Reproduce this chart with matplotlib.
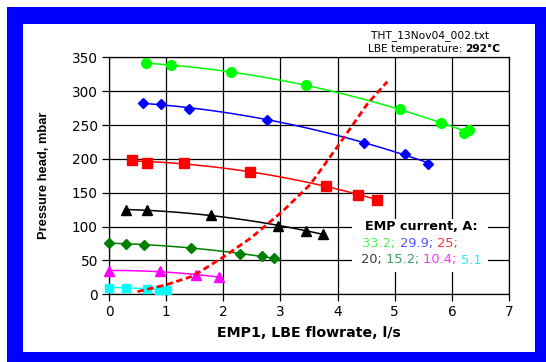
import numpy as np
import matplotlib
matplotlib.use("Agg")
import matplotlib.pyplot as plt
from matplotlib.patches import Rectangle

# ---- data ----
currents = ["33.2", "29.9", "25", "20", "15.2", "10.4", "5.1"]
x_332 = [0.65, 1.08, 2.13, 3.44, 5.09, 5.81, 6.22, 6.30]
y_332 = [341, 339, 328, 309, 273, 253, 238, 242]
x_299 = [0.59, 0.91, 1.40, 2.76, 4.47, 5.18, 5.58]
y_299 = [282, 281, 274, 258, 224, 207, 193]
x_25 = [0.40, 0.67, 1.32, 2.47, 3.79, 4.36, 4.69]
y_25 = [198, 194, 194, 180, 160, 147, 140]
x_20 = [0.30, 0.67, 1.78, 2.95, 3.44, 3.74]
y_20 = [125, 124, 117, 101, 94, 89]
x_152 = [0.0, 0.30, 0.61, 1.43, 2.30, 2.67, 2.88]
y_152 = [76, 74, 73, 69, 60, 56, 53]
x_104 = [0.0, 0.90, 1.52, 1.92]
y_104 = [35, 34, 28, 26]
x_51 = [0.0, 0.30, 0.67, 0.87, 1.01]
y_51 = [10, 10, 8, 6, 6]
x_sys = [0.50, 1.00, 1.47, 2.00, 2.48, 3.03, 3.52, 4.04, 4.52, 4.87]
y_sys = [4, 14, 27, 55, 83, 122, 162, 223, 281, 314]

x_ticks = [0, 1, 2, 3, 4, 5, 6, 7]
y_ticks = [0, 50, 100, 150, 200, 250, 300, 350]

series = [
    (x_332, y_332, "#00FF00", "o", 7.0),
    (x_299, y_299, "#0000FF", "D", 5.5),
    (x_25, y_25, "#FF0000", "s", 7.2),
    (x_20, y_20, "#000000", "^", 7.8),
    (x_152, y_152, "#008000", "D", 5.0),
    (x_104, y_104, "#FF00FF", "^", 7.8),
    (x_51, y_51, "#00FFFF", "s", 5.8),
]
legend_colors = ["#55EE55", "#5555FF", "#FF3333", "#404040", "#3A9A60", "#FF33FF", "#33E8F0"]

W, H = 546, 362
fig = plt.figure(figsize=(W / 100, H / 100), dpi=100)
fig.patch.set_facecolor("white")

def px_rect(x0, y0, x1, y1, color, z):
    fig.patches.append(Rectangle((x0 / W, 1 - y1 / H), (x1 - x0) / W, (y1 - y0) / H,
                                 transform=fig.transFigure, facecolor=color,
                                 edgecolor="none", zorder=z))

px_rect(7, 7, 546, 362, "#0000FF", -10)
px_rect(23, 24, 535, 352, "#FFFFFF", -9)

ax_l, ax_r, ax_t, ax_b = 109, 509, 57.3, 294.3
ax = fig.add_axes([ax_l / W, 1 - ax_b / H, (ax_r - ax_l) / W, (ax_b - ax_t) / H])
ax.set_facecolor("none")
ax.set_xlim(0, 7)
ax.set_ylim(0, 350)
ax.set_xticks(x_ticks)
ax.set_yticks(y_ticks)
ax.grid(True, color="#000000", linewidth=0.9)
ax.set_axisbelow(True)
for s in ax.spines.values():
    s.set_color("#000000")
    s.set_linewidth(0.9)
ax.tick_params(direction="out", length=5, width=0.9, labelsize=9.8, colors="#000000", pad=3)

for xs, ys, c, m, ms in series:
    xs = np.array(xs); ys = np.array(ys)
    coef = np.polyfit(xs, ys, 2)
    xf = np.linspace(xs.min(), xs.max(), 100)
    ax.plot(xf, np.polyval(coef, xf), color=c, lw=1.1, zorder=3, clip_on=False)
    ax.plot(xs, ys, ls="none", marker=m, color=c, ms=ms, mec=c, zorder=4, clip_on=False)

ax.plot(x_sys, y_sys, color="#FF0000", lw=2.0, dashes=(2.3, 1.3), zorder=5)

# white box behind the legend text
ax.add_patch(Rectangle((0.6075, 0.094), 0.34, 0.224, transform=ax.transAxes,
                       facecolor="white", edgecolor="none", zorder=2))

ax.set_xlabel("EMP1, LBE flowrate, l/s", fontsize=10.2, fontweight="bold")
ax.xaxis.set_label_coords(0.5, -0.165)
ax.xaxis.label.set_va("center")
ax.set_ylabel("Pressure head, mbar", fontsize=9.3, fontweight="bold",
              family=["Liberation Sans", "DejaVu Sans"])
ax.yaxis.set_label_coords(-0.162, 0.5)
ax.yaxis.label.set_va("center")

renderer = fig.canvas.get_renderer()

def pieces(parts, x_px, y_px, ha="left", size=8.5):
    # parts: list of (text, color, weight)
    widths = []
    objs = []
    for t, c, w in parts:
        o = fig.text(0, 0, t, color=c, fontweight=w, fontsize=size, va="center", ha="left")
        objs.append(o)
        widths.append(o.get_window_extent(renderer).width)
    total = sum(widths)
    if ha == "center":
        x = x_px - total / 2
    elif ha == "right":
        x = x_px - total
    else:
        x = x_px
    for o, w in zip(objs, widths):
        o.set_position((x / W, 1 - y_px / H))
        x += w

pieces([("EMP current, A:", "#000000", "bold")], 421, 227, ha="center", size=9.2)
pieces([(currents[0] + "; ", legend_colors[0], "normal"),
        (currents[1] + "; ", legend_colors[1], "normal"),
        (currents[2] + ";", legend_colors[2], "normal")], 410, 243.5, ha="center", size=9.4)
pieces([(currents[3] + "; ", legend_colors[3], "normal"),
        (currents[4] + "; ", legend_colors[4], "normal"),
        (currents[5] + "; ", legend_colors[5], "normal"),
        (currents[6], legend_colors[6], "normal")], 421, 260, ha="center", size=9.4)

pieces([("THT_13Nov04_002.txt", "#000000", "normal")], 430, 36, ha="center", size=7.7)
pieces([("LBE temperature: ", "#000000", "normal"),
        ("292°C", "#000000", "bold")], 434, 48.5, ha="center", size=7.7)

fig.savefig("out.png", dpi=100, facecolor="white")
